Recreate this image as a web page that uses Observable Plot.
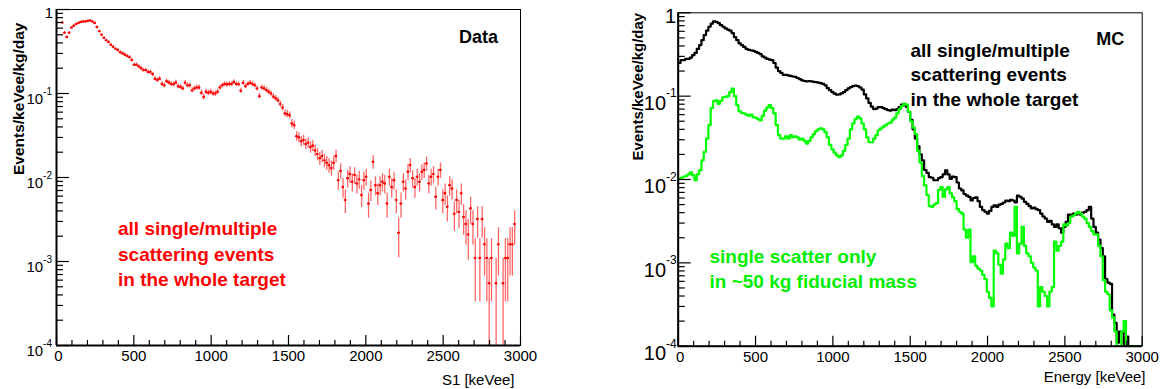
<!DOCTYPE html>
<html>
<head>
<meta charset="utf-8">
<script src="https://cdn.jsdelivr.net/npm/d3@7"></script>
<script src="https://cdn.jsdelivr.net/npm/@observablehq/plot@0.6"></script>
<style>
  body { margin: 0; background: #fff; }
  #wrap { position: relative; width: 1164px; height: 389px; overflow: hidden; font-family: "Liberation Sans", Arial, Helvetica, sans-serif; }
  #left, #right { position: absolute; top: 0; }
  #left { left: 0; }
  #right { left: 582px; }
</style>
</head>
<body>
<div id="wrap"><div id="left"></div><div id="right"></div></div>
<script>
// ---------------- data ----------------
const binWidth = 15;            // keVee per bin, 0..3000
const countUnit = 0.00054;      // rate corresponding to one event in a bin (Data)

// Data: measured rate per bin (null = empty bin)
const dataRate = [
  null, null, 0.70, 0.53, 0.47, 0.53, 0.61, 0.64, 0.67, 0.69,
  0.71, 0.72, 0.72, 0.73, 0.74, 0.72, 0.69, 0.62, 0.55, 0.50,
  0.46, 0.43, 0.41, 0.38, 0.36, 0.34, 0.33, 0.31, 0.30, 0.29,
  0.28, 0.27, 0.25, 0.22, 0.22, 0.21, 0.20, 0.19, 0.19, 0.18,
  0.18, 0.17, 0.15, 0.145, 0.15, 0.13, 0.125, 0.14, 0.135, 0.13,
  0.129, 0.135, 0.122, 0.12, 0.115, 0.134, 0.125, 0.125, 0.109, 0.115,
  0.118, 0.118, 0.102, 0.091, 0.105, 0.102, 0.105, 0.1, 0.1, 0.105,
  0.118, 0.125, 0.13, 0.128, 0.13, 0.13, 0.137, 0.13, 0.129, 0.108,
  0.134, 0.122, 0.13, 0.134, 0.13, 0.125, 0.115, 0.093, 0.118, 0.115,
  0.11, 0.105, 0.1, 0.092, 0.088, 0.083, 0.075, 0.068, 0.058, 0.057,
  0.055, 0.044, 0.042, 0.031, 0.030, 0.027, 0.028, 0.025, 0.026, 0.023,
  0.024, 0.021, 0.019, 0.017, 0.018, 0.016, 0.015, 0.014, 0.013, 0.015,
  0.018, 0.0093, 0.012, 0.0077, 0.0054, 0.0098, 0.011, 0.0089, 0.0107, 0.0085,
  0.0095, 0.0062, 0.0093, 0.0102, 0.0049, 0.0071, 0.0154, 0.0081, 0.0065, 0.0081,
  0.0089, 0.0085, 0.0049, 0.0102, 0.0077, 0.0093, 0.0054, 0.0022, 0.0049, 0.0089,
  0.0074, 0.0117, 0.0141, 0.0098, 0.0077, 0.0102, 0.0089, 0.0117, 0.0123, 0.0147,
  0.0085, 0.0102, 0.011, 0.0059, 0.0102, 0.0123, 0.0054, 0.0065, 0.0045, 0.0081,
  0.0074, 0.0037, 0.0054, 0.0039, 0.0065, 0.0034, 0.0028, 0.0021, 0.0043, 0.0028,
  0.0011, 0.0032, 0.0011, 0.0032, 0.0016, 0.0011, 0.00055, 0.0011, null, 0.00055,
  0.0016, null, 0.00055, 0.0011, 0.0011, 0.0016, 0.0016, 0.0028, null, null
];

// MC: all single/multiple scattering events in the whole target
const mcAll = [
  0.25, 0.27, 0.27, 0.28, 0.28, 0.29, 0.31, 0.33, 0.37, 0.41,
  0.47, 0.54, 0.61, 0.68, 0.74, 0.79, 0.78, 0.75, 0.71, 0.68,
  0.65, 0.63, 0.61, 0.57, 0.51, 0.47, 0.43, 0.41, 0.39, 0.37,
  0.36, 0.355, 0.35, 0.34, 0.33, 0.32, 0.30, 0.29, 0.28, 0.275,
  0.27, 0.25, 0.22, 0.20, 0.19, 0.18, 0.18, 0.178, 0.175, 0.172,
  0.17, 0.165, 0.16, 0.155, 0.152, 0.15, 0.152, 0.15, 0.148, 0.147,
  0.145, 0.143, 0.14, 0.135, 0.125, 0.118, 0.112, 0.107, 0.104, 0.105,
  0.108, 0.112, 0.118, 0.124, 0.128, 0.132, 0.134, 0.132, 0.127, 0.12,
  0.105, 0.094, 0.083, 0.075, 0.07, 0.071, 0.074, 0.074, 0.072, 0.07,
  0.068, 0.067, 0.069, 0.068, 0.07, 0.074, 0.079, 0.081, 0.075, 0.065,
  0.052, 0.04, 0.031, 0.025, 0.02, 0.017, 0.013, 0.012, 0.0107, 0.0105,
  0.0098, 0.0098, 0.0104, 0.0107, 0.0115, 0.0129, 0.0115, 0.0102, 0.0108, 0.0107,
  0.0092, 0.0078, 0.0074, 0.0067, 0.0064, 0.0062, 0.0056, 0.006, 0.0061, 0.0055,
  0.0047, 0.0043, 0.0041, 0.0039, 0.0042, 0.0047, 0.0049, 0.0047, 0.005, 0.0051,
  0.0053, 0.0056, 0.0055, 0.0057, 0.0056, 0.0053, 0.0064, 0.0062, 0.0059, 0.0054,
  0.0051, 0.0048, 0.0045, 0.0046, 0.0044, 0.0043, 0.0039, 0.0036, 0.0034, 0.0031,
  0.0032, 0.0029, 0.0027, 0.0029, 0.0026, 0.0023, 0.0027, 0.0031, 0.0038, 0.0036,
  0.0039, 0.0038, 0.0039, 0.0038, 0.004, 0.0041, 0.0043, 0.0047, 0.0034, 0.0027,
  0.0023, 0.0019, 0.0015, 0.0012, 0.00064, 0.00058, 0.00056, 0.00024, 0.00019, 0.00011,
  0.00015, 0.00015, 0, 0.00013, 0, 0, 0, 0, 0, 0
];

// MC: single scatter only in ~50 kg fiducial mass
const mcSingle = [
  0.0102, 0.0105, 0.0108, 0.011, 0.0115, 0.0122, 0.0112, 0.0098, 0.0115, 0.0129,
  0.017, 0.0215, 0.031, 0.045, 0.072, 0.087, 0.089, 0.081, 0.088, 0.097,
  0.098, 0.10, 0.112, 0.123, 0.10, 0.078, 0.066, 0.063, 0.062, 0.06,
  0.058, 0.06, 0.056, 0.055, 0.053, 0.051, 0.058, 0.067, 0.073, 0.078,
  0.072, 0.062, 0.045, 0.034, 0.031, 0.031, 0.033, 0.031, 0.034, 0.032,
  0.033, 0.032, 0.03, 0.031, 0.029, 0.027, 0.029, 0.032, 0.035, 0.038,
  0.04, 0.041, 0.04, 0.037, 0.032, 0.026, 0.023, 0.021, 0.0195, 0.0185,
  0.0195, 0.022, 0.026, 0.031, 0.04, 0.047, 0.053, 0.057, 0.054, 0.047,
  0.04, 0.032, 0.028, 0.028, 0.031, 0.034, 0.039, 0.041, 0.043, 0.045,
  0.047, 0.048, 0.052, 0.055, 0.062, 0.07, 0.076, 0.081, 0.079, 0.065,
  0.05, 0.042, 0.035, 0.022, 0.016, 0.011, 0.0085, 0.0065, 0.0048, 0.0047,
  0.005, 0.0052, 0.0075, 0.0081, 0.0062, 0.0076, 0.0081, 0.0068, 0.0061, 0.0055,
  0.0044, 0.0041, 0.0039, 0.0025, 0.002, 0.0025, 0.00102, 0.0012, 0.00092, 0.00085,
  0.00081, 0.00072, 0.00064, 0.00045, 0.00038, 0.0003, 0.0014, 0.0013, 0.00095, 0.00074,
  0.0011, 0.0017, 0.0015, 0.0023, 0.0021, 0.0047, 0.0013, 0.0017, 0.0027, 0.0016,
  0.0013, 0.0012, 0.001, 0.00088, 0.00081, 0.0003, 0.00051, 0.00045, 0.0004, 0.0003,
  0.00045, 0.00051, 0.0018, 0.0014, 0.0016, 0.0018, 0.0029, 0.0028, 0.003, 0.0036,
  0.0037, 0.0039, 0.0041, 0.0039, 0.0036, 0.0034, 0.003, 0.0027, 0.0024, 0.0022,
  0.0022, 0.0016, 0.0012, 0.00062, 0.00045, 0.00042, 0.00027, 0.00022, 0.00015, 0,
  0, 0.00015, 0.0002, 0, 0, 0, 0, 0, 0, 0
];

// axis tick values and labels
const xMajorTicks = [0, 500, 1000, 1500, 2000, 2500, 3000];
const xMinorTicks = [100, 200, 300, 400, 600, 700, 800, 900, 1100, 1200, 1300, 1400,
  1600, 1700, 1800, 1900, 2100, 2200, 2300, 2400, 2600, 2700, 2800, 2900];
const yMajorTicks = [1, 0.1, 0.01, 0.001, 0.0001];
const yExponents = ["", "-1", "-2", "-3", "-4"];
const yMinorMultipliers = [2, 3, 4, 5, 6, 7, 8, 9];

const yTitle = "Events/keVee/kg/day";
const leftXTitle = "S1 [keVee]";
const rightXTitle = "Energy [keVee]";
const leftTag = "Data";
const rightTag = "MC";
const dataNote = "all single/multiple\nscattering events\nin the whole target";
const mcAllNote = "all single/multiple\nscattering events\nin the whole target";
const mcSingleNote = "single scatter only\nin ~50 kg fiducial mass";

// ---------------- helpers ----------------
const xDomain = [0, 3000];
const yDomain = [1e-4, 1];
const FONT = "\"Liberation Sans\", Arial, Helvetica, sans-serif";
const plotW = 464;                 // px width of the frame
const pxPerKeV = plotW / 3000;

const yMinorTicks = [];
for (let k = -4; k < 0; k++) for (const m of yMinorMultipliers) yMinorTicks.push(m * 10 ** k);

function axisMarks(pxPerDecade, lab) {
  const up = (px) => yDomain[0] * 10 ** (px / pxPerDecade);
  const right = (px) => px / pxPerKeV;
  const marks = [
    Plot.ruleX(xMajorTicks, {x: d => d, y1: yDomain[0], y2: up(10), stroke: "#000", strokeWidth: 1.2}),
    Plot.ruleX(xMinorTicks, {x: d => d, y1: yDomain[0], y2: up(5), stroke: "#000", strokeWidth: 1.2}),
    Plot.ruleY(yMajorTicks, {y: d => d, x1: 0, x2: right(13), stroke: "#000", strokeWidth: 1.2}),
    Plot.ruleY(yMinorTicks, {y: d => d, x1: 0, x2: right(7), stroke: "#000", strokeWidth: 1.2}),
    Plot.frame({stroke: "#000", strokeWidth: 1}),
    Plot.ruleX([0], {stroke: "#000", strokeWidth: 2}),
    Plot.ruleY([yDomain[0]], {stroke: "#000", strokeWidth: 2}),
    // x tick labels (the "0" nudged right, clear of the 10^-4 label)
    Plot.text(xMajorTicks.slice(1), {x: d => d, y: yDomain[0], text: d => String(d), dy: 11,
      lineAnchor: "middle", fontSize: 15, fill: "#000"}),
    Plot.text(xMajorTicks.slice(0, 1), {x: d => d, y: yDomain[0], text: d => String(d), dy: 11, dx: 2,
      lineAnchor: "middle", fontSize: 15, fill: "#000"}),
    // y tick labels: "1" and 10^k
    Plot.text([1], {x: 0, y: d => d, text: () => "1", textAnchor: "end", dx: lab.oneDx, dy: 4,
      lineAnchor: "middle", fontSize: lab.baseSize, fill: "#000"}),
    Plot.text(yMajorTicks.slice(1), {x: 0, y: d => d, text: () => "10", textAnchor: "end",
      dx: lab.supEnd - 0.889 * lab.supSize, dy: lab.baseDy, lineAnchor: "middle", fontSize: lab.baseSize, fill: "#000"}),
    Plot.text(yMajorTicks.slice(1).map((v, i) => ({v, e: yExponents[i + 1]})), {x: 0, y: "v", text: "e",
      textAnchor: "end", dx: lab.supEnd, dy: lab.supDy, lineAnchor: "middle", fontSize: lab.supSize, fill: "#000"})
  ];
  return marks;
}

function stepRows(values) {
  const rows = [];
  values.forEach((v, i) => {
    const y = Math.max(v ?? 0, yDomain[0]);
    rows.push({x: i * binWidth, y}, {x: (i + 1) * binWidth, y});
  });
  return rows;
}

function panel({marginLeft, marginRight, marginTop, marginBottom, marks}) {
  return Plot.plot({
    width: 582, height: 389,
    marginLeft, marginRight, marginTop, marginBottom,
    x: {domain: xDomain, axis: null},
    y: {type: "log", domain: yDomain, axis: null},
    style: {fontFamily: FONT, background: "transparent", overflow: "visible"},
    marks
  });
}

// ---------------- left: Data ----------------
const dataRows = dataRate.map((v, i) => {
  if (v == null) return null;
  const err = Math.sqrt(v * countUnit);
  return {E: (i + 0.5) * binWidth, E0: i * binWidth, E1: (i + 1) * binWidth, v,
    lo: Math.max(v - err, 1e-6), hi: v + err};
}).filter(d => d);

const leftPlot = panel({
  marginLeft: 56, marginRight: 62, marginTop: 9, marginBottom: 44,
  marks: [
    Plot.ruleX(dataRows, {x: "E", y1: "lo", y2: "hi", stroke: "#ff0000", strokeOpacity: 0.6, strokeWidth: 1.3, clip: true}),
    Plot.ruleY(dataRows, {y: "v", x1: "E0", x2: "E1", stroke: "#ff0000", strokeWidth: 1.3, clip: true}),
    Plot.dot(dataRows, {x: "E", y: "v", r: 1.2, fill: "#ff0000", stroke: null, clip: true}),
    ...axisMarks(84, {baseSize: 15, supSize: 10, supEnd: -4.5, baseDy: 6, supDy: -2, oneDx: -3.5}),
    Plot.text([yTitle], {frameAnchor: "top-left", text: d => d, rotate: -90, textAnchor: "end",
      lineAnchor: "middle", dx: -37, dy: 13, fontSize: 15.5, fontWeight: "bold", fill: "#000"}),
    Plot.text([leftXTitle], {frameAnchor: "bottom-right", text: d => d, textAnchor: "end",
      lineAnchor: "middle", dx: -6, dy: 34.5, fontSize: 15, fill: "#000"}),
    Plot.text([leftTag], {frameAnchor: "top-right", text: d => d, textAnchor: "middle",
      lineAnchor: "middle", dx: -42, dy: 28, fontSize: 18, fontWeight: "bold", fill: "#000"}),
    Plot.text([dataNote], {frameAnchor: "top-left", text: d => d, textAnchor: "start",
      lineAnchor: "middle", dx: 61.5, dy: 243, fontSize: 19, lineHeight: 1.32, fontWeight: "bold", fill: "#ff0000"})
  ]
});
document.getElementById("left").appendChild(leftPlot);

// ---------------- right: MC ----------------
const rightPlot = panel({
  marginLeft: 95.7, marginRight: 22.3, marginTop: 12.3, marginBottom: 43.3,
  marks: [
    Plot.line(stepRows(mcAll), {x: "x", y: "y", stroke: "#000", strokeWidth: 2.2, clip: true}),
    Plot.line(stepRows(mcSingle), {x: "x", y: "y", stroke: "#00ff00", strokeWidth: 2.2, clip: true}),
    ...axisMarks(83.35, {baseSize: 20, supSize: 12, supEnd: -1.5, baseDy: 7.5, supDy: -2.5, oneDx: -2}),
    Plot.text([yTitle], {frameAnchor: "top-left", text: d => d, rotate: -90, textAnchor: "end",
      lineAnchor: "middle", dx: -39.7, dy: 0, fontSize: 15, fontWeight: "bold", fill: "#000"}),
    Plot.text([rightXTitle], {frameAnchor: "bottom-right", text: d => d, textAnchor: "end",
      lineAnchor: "middle", dx: 3.3, dy: 30.5, fontSize: 15, fill: "#000"}),
    Plot.text([rightTag], {frameAnchor: "top-right", text: d => d, textAnchor: "middle",
      lineAnchor: "middle", dx: -32, dy: 26, fontSize: 18, fontWeight: "bold", fill: "#000"}),
    Plot.text([mcAllNote], {frameAnchor: "top-left", text: d => d, textAnchor: "start",
      lineAnchor: "middle", dx: 232.3, dy: 60.5, fontSize: 19, lineHeight: 1.29, fontWeight: "bold", fill: "#000"}),
    Plot.text([mcSingleNote], {frameAnchor: "top-left", text: d => d, textAnchor: "start",
      lineAnchor: "middle", dx: 31.3, dy: 254.5, fontSize: 19, lineHeight: 1.32, fontWeight: "bold", fill: "#00ee00"})
  ]
});
document.getElementById("right").appendChild(rightPlot);
</script>
</body>
</html>
